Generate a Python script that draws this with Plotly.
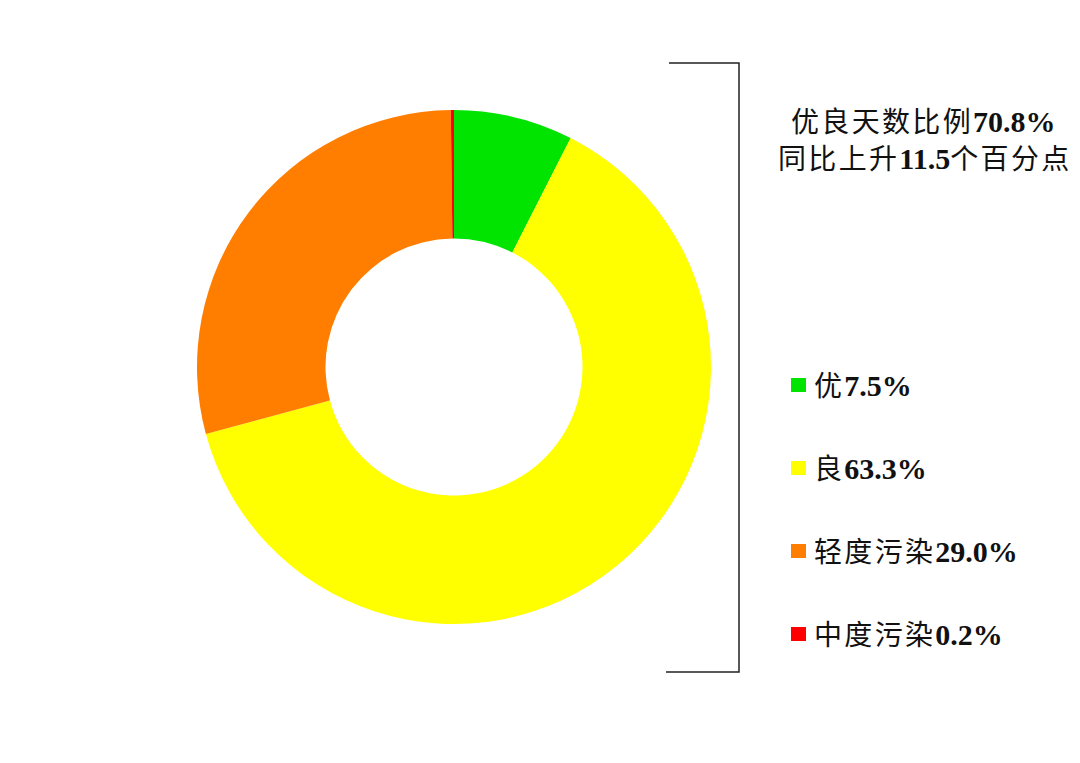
import plotly.graph_objects as go

# air quality day shares
categories = ['优', '良', '轻度污染', '中度污染']
shares = [7.5, 63.3, 29.0, 0.2]
colors = ['#00E400', '#FFFF00', '#FF7E00', '#FF0000']
summary_text = ['优良天数比例', '同比上升']
summary_nums = ['70.8%', '11.5']
summary_tail = ['', '个百分点']

W, H = 1080, 763
OX, OY = 7, 8   # page offset seen in the screenshot
FONT = 'Liberation Serif, Times New Roman, Noto Sans CJK SC'

def px(x):
    return (x - OX) / W

def py(y):
    return 1 - (y - OY) / H

def num(s):
    return f'<b><span style="font-size:30px">{s}</span></b>'

def spaced(s):
    # the title has a little extra room between characters
    return '\u200a'.join(s)

# donut: center (453, 367), outer radius 257
cx, cy, r = 453, 367, 257

fig = go.Figure()
fig.add_trace(go.Pie(
    labels=categories,
    values=shares,
    hole=0.5,
    sort=False,
    direction='clockwise',
    rotation=0,
    marker=dict(colors=colors, line=dict(width=0)),
    textinfo='none',
    hoverinfo='label+percent',
    showlegend=False,
    domain=dict(x=[px(cx - r), px(cx + r)], y=[py(cy + r), py(cy - r)]),
))

shapes = []
annotations = []

# bracket on the right of the donut
shapes.append(dict(
    type='path', xref='paper', yref='paper',
    path=f'M {px(668)} {py(63)} L {px(738)} {py(63)} L {px(738)} {py(672)} L {px(665)} {py(672)}',
    line=dict(color='#222222', width=1.5),
))

# summary text
for i, (a, b, c) in enumerate(zip(summary_text, summary_nums, summary_tail)):
    annotations.append(dict(
        x=px(922), y=py(121 + 37 * i), xref='paper', yref='paper',
        text=spaced(a) + '\u200a' + num(b) + spaced(c), showarrow=False,
        font=dict(family=FONT, size=28, color='#111111'),
        xanchor='center', yanchor='middle',
    ))

# manual legend
legend_y = [385, 468, 551, 634]
for name, val, col, ly in zip(categories, shares, colors, legend_y):
    shapes.append(dict(
        type='rect', xref='paper', yref='paper',
        x0=px(790), x1=px(805), y0=py(ly + 7), y1=py(ly - 7),
        fillcolor=col, line=dict(width=0),
    ))
    annotations.append(dict(
        x=px(811), y=py(ly), xref='paper', yref='paper',
        text=spaced(name) + '\u200a' + num(f'{val:.1f}%'), showarrow=False,
        font=dict(family=FONT, size=28, color='#111111'),
        xanchor='left', yanchor='middle',
    ))

fig.update_layout(
    width=W, height=H,
    margin=dict(l=0, r=0, t=0, b=0),
    paper_bgcolor='white', plot_bgcolor='white',
    shapes=shapes, annotations=annotations,
)

fig.write_html('out.html')
